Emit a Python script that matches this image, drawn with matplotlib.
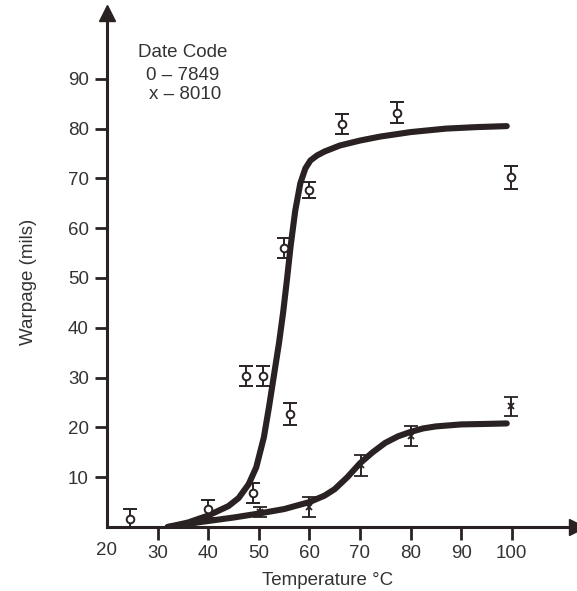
import numpy as np
import matplotlib.pyplot as plt

plt.rcParams['font.family'] = ['Liberation Sans', 'DejaVu Sans']

# measured points, date code 0-7849 (circles)
t_o = [24.5, 40, 48.9, 47.4, 50.8, 56.2, 55.0, 59.9, 66.4, 77.4, 99.8]
w_o = [1.6, 3.6, 6.8, 30.4, 30.4, 22.6, 56.0, 67.6, 81.0, 83.2, 70.2]
e_o = [2.0, 1.8, 2.0, 2.0, 2.0, 2.2, 2.0, 1.6, 2.0, 2.1, 2.3]

# measured points, date code x-8010 (crosses)
t_x = [50.2, 60, 70.2, 80, 99.8]
w_x = [3.0, 4.0, 12.4, 18.3, 24.2]
e_x = [1.0, 2.0, 2.1, 2.0, 2.0]

# hand-drawn fit curves
curve_o_t = [32, 36, 40, 44, 46, 48, 49.5, 51, 52, 53, 54, 54.8, 55.6, 56.3,
             57.2, 58.2, 59.2, 60.2, 61.5, 63, 66, 70, 74, 80, 87, 93, 99]
curve_o_w = [0, 0.9, 2.3, 4.2, 5.8, 8.6, 12, 18, 24, 30.5, 37, 43, 50, 56.5,
             63.5, 69, 72, 73.6, 74.6, 75.4, 76.6, 77.6, 78.4, 79.3, 80, 80.3, 80.5]
curve_x_t = [32, 38.5, 45, 50, 55, 60, 63, 65, 67.5, 70, 72.5, 75, 77.5, 80,
             82.5, 85, 90, 95, 99]
curve_x_w = [0, 1.0, 1.9, 2.7, 3.6, 5.0, 6.3, 7.6, 10.0, 12.8, 15.0, 16.9, 18.2,
             19.1, 19.8, 20.2, 20.6, 20.7, 20.8]

xticks = [30, 40, 50, 60, 70, 80, 90, 100]
yticks = [10, 20, 30, 40, 50, 60, 70, 80, 90]

ink = '#2a2222'
txt = '#333333'
fs = 13.5

fig = plt.figure(figsize=(5.77, 5.91), dpi=100)
ax = fig.add_axes([107/577, 64/591, 470/577, 514/591])
ax.set_xlim(20, 20 + 470/5.06)
ax.set_ylim(0, 514/4.98)

ax.plot(curve_o_t, curve_o_w, color=ink, lw=4.4, solid_capstyle='round',
        solid_joinstyle='round', zorder=3)
ax.plot(curve_x_t, curve_x_w, color=ink, lw=4.4, solid_capstyle='round',
        solid_joinstyle='round', zorder=3)

ax.errorbar(t_o, w_o, yerr=e_o, fmt='o', ms=5.5, mfc='white', mec=ink, mew=1.4,
            ecolor=ink, elinewidth=1.4, capsize=5, capthick=1.8, zorder=4)
ax.errorbar(t_x, w_x, yerr=e_x, fmt='x', ms=4.5, mec=ink, mew=1.3,
            ecolor=ink, elinewidth=1.4, capsize=5, capthick=1.8, zorder=4)

for s in ['top', 'right']:
    ax.spines[s].set_visible(False)
for s in ['left', 'bottom']:
    ax.spines[s].set_linewidth(2.2)
    ax.spines[s].set_color(ink)
    ax.spines[s].set_zorder(5)

# arrow heads
ax.plot(1, 0, marker='>', ms=11, color=ink, transform=ax.transAxes, clip_on=False)
ax.plot(0, 1, marker='^', ms=11, color=ink, transform=ax.transAxes, clip_on=False)

ax.set_xticks(xticks)
ax.set_yticks(yticks)
ax.tick_params(axis='both', direction='out', length=9, width=2, color=ink,
               labelsize=fs, labelcolor=txt, pad=4)
ax.text(20, -3.0, '20', ha='center', va='top', fontsize=fs, color=txt)

ax.set_xlabel('Temperature \u00b0C', fontsize=fs, color=txt)
ax.xaxis.set_label_coords(0.47, -0.087)
ax.set_ylabel('Warpage (mils)', fontsize=fs, color=txt, va='center')
ax.yaxis.set_label_coords(-0.168, 0.477)

ax.text(35, 95.2, 'Date Code', ha='center', va='center', fontsize=fs, color=txt)
ax.text(35, 90.6, '0 \u2013 7849', ha='center', va='center', fontsize=fs, color=txt)
ax.text(35.4, 86.8, 'x \u2013 8010', ha='center', va='center', fontsize=fs, color=txt)

fig.savefig('out.png', dpi=100)
